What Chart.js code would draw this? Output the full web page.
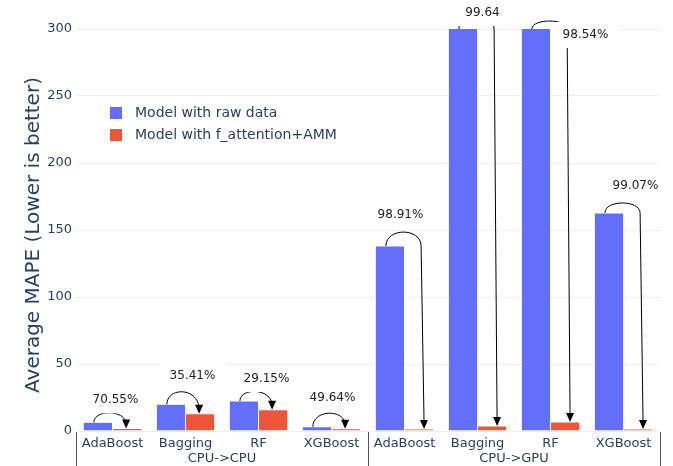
<!DOCTYPE html>
<html>
<head>
<meta charset="utf-8">
<script src="https://cdn.jsdelivr.net/npm/chart.js@4/dist/chart.umd.min.js"></script>
<style>
  html, body { margin: 0; padding: 0; background: #fff; }
  #wrap { width: 673px; height: 466px; }
</style>
</head>
<body>
<div id="wrap"><canvas id="chart" width="673" height="466"></canvas></div>
<script>
// Models on the x axis, split into two transfer settings
const categories = ['AdaBoost', 'Bagging', 'RF', 'XGBoost', 'AdaBoost', 'Bagging', 'RF', 'XGBoost'];
const groups = ['CPU->CPU', 'CPU->GPU'];
const groupSize = 4;

// Average MAPE per model (GPU Bagging / RF run past the axis top)
const rawMape = [6.5, 19.9, 22.4, 3.2, 138, 1028, 459, 162.7];
const improvedMape = [1.91, 12.85, 15.87, 1.61, 1.5, 3.7, 6.7, 1.51];

// Reduction labels shown above each pair
const reductionLabels = ['70.55%', '35.41%', '29.15%', '49.64%', '98.91%', '99.64', '98.54%', '99.07%'];

const yTicks = [0, 50, 100, 150, 200, 250, 300];

const seriesNames = ['Model with raw data', 'Model with f_attention+AMM'];
const seriesColors = ['#636EFA', '#EF553B'];

// Placement of each reduction label/arrow (pixel offsets)
// lx: label x offset from group centre, ly: label y offset from arc apex, rise: arc height
const arrowPlacement = [
  { lx: 3, ly: -13, rise: 9 },
  { lx: 7, ly: -16, rise: 12 },
  { lx: 8, ly: -13, rise: 9 },
  { lx: 1, ly: -16, rise: 13 },
  { lx: -4, ly: -17, rise: 14 },
  { lx: 5, ly: -3, rise: 13 },
  { lx: 35, ly: 14, rise: 8 },
  { lx: 12, ly: -17, rise: 10 }
];

const FONT = '"DejaVu Sans", Verdana, sans-serif';
const TEXT = '#2a3f5f';

function arrowHead(ctx, tx, ty, fromX, fromY) {
  const ang = Math.atan2(ty - fromY, tx - fromX);
  const len = 9, half = 4;
  ctx.beginPath();
  ctx.moveTo(tx, ty);
  ctx.lineTo(tx - len * Math.cos(ang) + half * Math.sin(ang), ty - len * Math.sin(ang) - half * Math.cos(ang));
  ctx.lineTo(tx - len * Math.cos(ang) - half * Math.sin(ang), ty - len * Math.sin(ang) + half * Math.cos(ang));
  ctx.closePath();
  ctx.fill();
}

const decorations = {
  id: 'decorations',
  afterDatasetsDraw(chart) {
    const ctx = chart.ctx;
    const area = chart.chartArea;
    const xs = chart.scales.x;
    const rawBars = chart.getDatasetMeta(0).data;
    const impBars = chart.getDatasetMeta(1).data;

    ctx.save();
    ctx.strokeStyle = '#000';
    ctx.fillStyle = '#000';
    ctx.lineWidth = 1;

    const labelSpots = [];
    for (let i = 0; i < categories.length; i++) {
      const p = arrowPlacement[i];
      const x1 = rawBars[i].x - 4;
      const y1 = Math.max(rawBars[i].y, area.top);
      const x2 = impBars[i].x;
      const y2 = impBars[i].y;
      const apex = Math.min(y1, y2) - p.rise;
      if (y2 - y1 < 40) {
        // short hop between neighbouring bars
        const c = (8 * apex - y1 - y2) / 6;
        const xe = x2 - 1;
        ctx.beginPath();
        ctx.moveTo(x1, y1);
        ctx.bezierCurveTo(x1, c, xe, c, xe, y2 - 4);
        ctx.stroke();
        arrowHead(ctx, xe, y2, xe, c);
      } else {
        // loop over the top, then drop to the small bar
        const k = p.rise / 0.75;
        const xe = x2 + 2;
        const xt = x2 + 5;
        ctx.beginPath();
        ctx.moveTo(x1, y1);
        ctx.bezierCurveTo(x1, y1 - k, xe, y1 - k, xe, y1);
        ctx.lineTo(xt, y2 - 4);
        ctx.stroke();
        arrowHead(ctx, xt, y2, xe, y1);
      }
      const gx = xs.getPixelForValue(i);
      labelSpots.push({ x: gx + p.lx, y: apex + p.ly, text: reductionLabels[i] });
    }

    ctx.font = '12px ' + FONT;
    ctx.textAlign = 'center';
    ctx.textBaseline = 'middle';
    labelSpots.forEach(s => {
      const w = ctx.measureText(s.text).width + 22;
      ctx.fillStyle = '#fff';
      ctx.fillRect(s.x - w / 2, s.y - 13, w, 26);
      ctx.fillStyle = '#222';
      ctx.fillText(s.text, s.x, s.y);
    });
    ctx.restore();
  },
  afterDraw(chart) {
    const ctx = chart.ctx;
    const area = chart.chartArea;
    const xs = chart.scales.x;
    ctx.save();

    // group row and dividers under the model names
    const bottom = chart.height;
    const bounds = [area.left];
    for (let g = 1; g < groups.length; g++) {
      const i = g * groupSize;
      bounds.push((xs.getPixelForValue(i - 1) + xs.getPixelForValue(i)) / 2);
    }
    bounds.push(area.right);
    ctx.strokeStyle = '#555';
    ctx.lineWidth = 1;
    bounds.forEach(b => {
      const bx = Math.round(b) + 0.5;
      ctx.beginPath();
      ctx.moveTo(bx, area.bottom + 1);
      ctx.lineTo(bx, bottom);
      ctx.stroke();
    });
    ctx.fillStyle = TEXT;
    ctx.font = '13px ' + FONT;
    ctx.textAlign = 'center';
    ctx.textBaseline = 'middle';
    groups.forEach((name, g) => {
      const a = xs.getPixelForValue(g * groupSize + 1);
      const b = xs.getPixelForValue(g * groupSize + 2);
      ctx.fillText(name, (a + b) / 2, area.bottom + 28);
    });

    // y axis title
    ctx.save();
    ctx.translate(34, (area.top + area.bottom) / 2 + 5);
    ctx.rotate(-Math.PI / 2);
    ctx.font = '20px ' + FONT;
    ctx.fillText('Average MAPE (Lower is better)', 0, 0);
    ctx.restore();

    // legend inside the plot
    ctx.textAlign = 'left';
    ctx.font = '14px ' + FONT;
    chart.data.datasets.forEach((ds, k) => {
      const ly = area.top + 84 + k * 22;
      ctx.fillStyle = ds.backgroundColor;
      ctx.fillRect(area.left + 34, ly - 6, 12, 12);
      ctx.fillStyle = TEXT;
      ctx.fillText(ds.label, area.left + 59, ly);
    });
    ctx.restore();
  }
};

new Chart(document.getElementById('chart'), {
  type: 'bar',
  data: {
    labels: categories,
    datasets: [
      { label: seriesNames[0], data: rawMape, backgroundColor: seriesColors[0], borderColor: '#fff', borderWidth: 0.5 },
      { label: seriesNames[1], data: improvedMape, backgroundColor: seriesColors[1], borderColor: '#fff', borderWidth: 0.5 }
    ]
  },
  options: {
    responsive: false,
    animation: false,
    categoryPercentage: 0.8,
    barPercentage: 1.0,
    layout: { padding: { left: 0, right: 13, top: 29, bottom: 0 } },
    plugins: {
      legend: { display: false },
      tooltip: { enabled: false }
    },
    scales: {
      x: {
        grid: { display: false, drawTicks: false },
        border: { display: false },
        ticks: {
          color: TEXT,
          font: { family: FONT, size: 13 },
          padding: 5,
          maxRotation: 0,
          autoSkip: false
        },
        afterFit(scale) { scale.height = 35; }
      },
      y: {
        min: 0,
        max: 300,
        afterBuildTicks(scale) { scale.ticks = yTicks.map(v => ({ value: v })); },
        grid: { color: '#EBF0F8', lineWidth: 1, drawTicks: false },
        border: { display: false },
        ticks: {
          color: TEXT,
          font: { family: FONT, size: 13 },
          padding: 4
        },
        afterFit(scale) { scale.width = 76; }
      }
    }
  },
  plugins: [decorations]
});
</script>
</body>
</html>
